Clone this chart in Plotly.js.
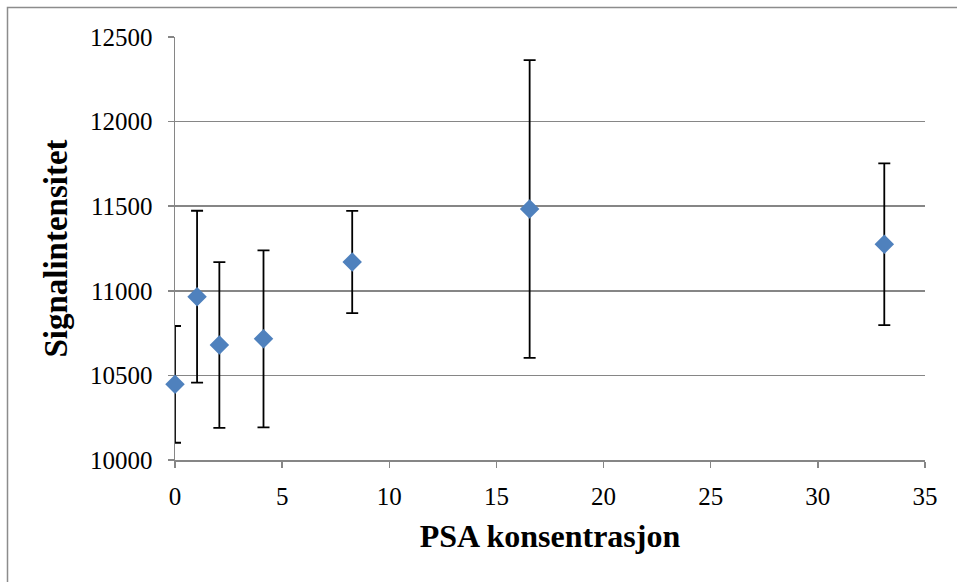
<!DOCTYPE html>
<html>
<head>
<meta charset="utf-8">
<script src="https://cdn.plot.ly/plotly-3.0.1.min.js"></script>
<style>html,body{margin:0;padding:0;background:#fff}#chart{width:957px;height:582px}</style>
</head>
<body>
<div id="chart"></div>
<script>
const psaConcentration = [0, 1.03, 2.07, 4.13, 8.27, 16.55, 33.1];
const signalIntensity = [10447, 10965, 10680, 10716, 11170, 11483, 11275];
const errorPlus = [345, 508, 490, 523, 302, 880, 478];
const xTickVals = [0, 5, 10, 15, 20, 25, 30, 35];
const yTickVals = [10000, 10500, 11000, 11500, 12000, 12500];

const trace = {
  x: psaConcentration,
  y: signalIntensity,
  type: 'scatter',
  mode: 'markers',
  cliponaxis: false,
  marker: {symbol: 'diamond', size: 15, color: '#4F81BD'},
  error_y: {type: 'data', array: errorPlus, visible: true, color: '#000000', thickness: 1.8, width: 6},
  showlegend: false,
  hoverinfo: 'x+y'
};

const fontFam = 'Liberation Serif, Times New Roman, serif';
const layout = {
  width: 957, height: 582,
  margin: {l: 175, r: 32, t: 37, b: 122},
  paper_bgcolor: '#ffffff',
  plot_bgcolor: '#ffffff',
  font: {family: fontFam, color: '#000000', size: 25},
  xaxis: {
    range: [0, 35], tickvals: xTickVals, ticktext: xTickVals.map(String),
    showgrid: false, zeroline: false,
    showline: true, linecolor: '#868686', linewidth: 1.5,
    ticks: 'outside', ticklen: 6, tickcolor: '#868686', tickwidth: 1.5,
    ticklabelstandoff: 7, layer: 'below traces',
    tickfont: {family: fontFam, size: 25, color: '#000'},
    title: {text: '<b>PSA konsentrasjon</b>', font: {family: fontFam, size: 32, color: '#000'}, standoff: 16}
  },
  yaxis: {
    range: [10000, 12500], tickvals: yTickVals, ticktext: yTickVals.map(String),
    showgrid: true, gridcolor: '#868686', gridwidth: 1.5, zeroline: false,
    showline: true, linecolor: '#868686', linewidth: 1.5,
    ticks: 'outside', ticklen: 6, tickcolor: '#868686', tickwidth: 1.5,
    ticklabelstandoff: 10, layer: 'below traces',
    tickfont: {family: fontFam, size: 25, color: '#000'},
    title: {text: '<b>Signalintensitet</b>', font: {family: fontFam, size: 33, color: '#000'}, standoff: 12}
  },
  shapes: [{
    type: 'rect', xref: 'paper', yref: 'paper',
    x0: (7.5 - 175) / 750, x1: 2,
    y0: -2, y1: (460 - 7.5) / 423,
    line: {color: '#8c8c8c', width: 1.5}, fillcolor: 'rgba(0,0,0,0)', layer: 'below'
  }]
};

Plotly.newPlot('chart', [trace], layout, {displayModeBar: false, staticPlot: true});
</script>
</body>
</html>
